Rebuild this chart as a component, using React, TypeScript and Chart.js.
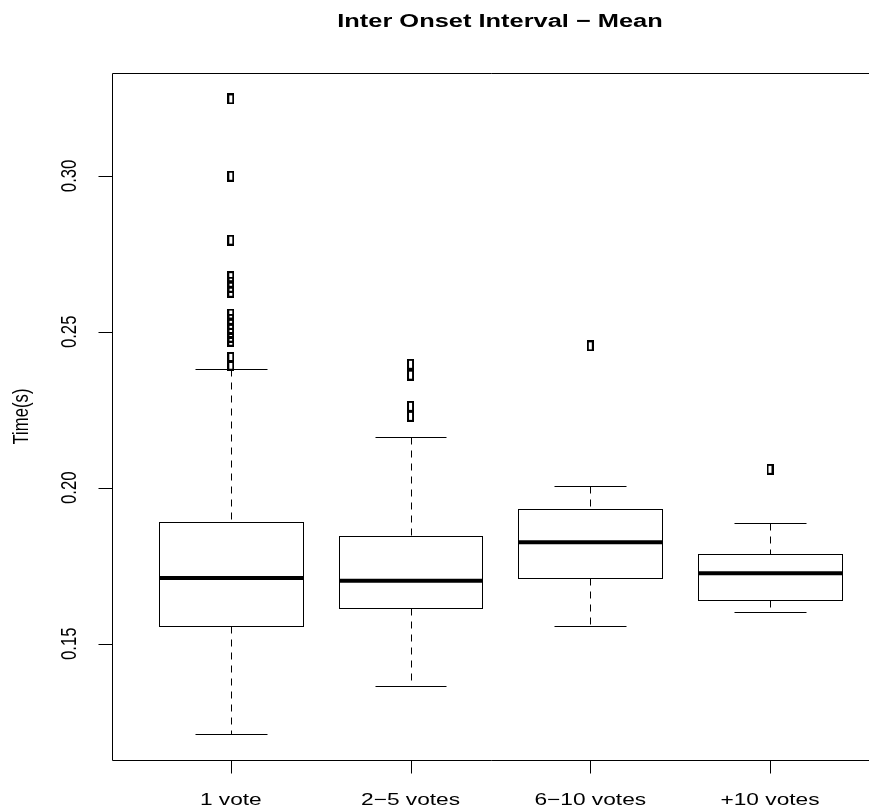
import React, { useEffect, useRef } from "react";
import { Chart, registerables } from "chart.js";
Chart.register(...registerables);

// ---- data ----
const categories = ["1 vote", "2−5 votes", "6−10 votes", "+10 votes"];
const lowerWhisker = [0.1209, 0.1363, 0.1558, 0.1601];
const q1 = [0.1558, 0.1616, 0.1712, 0.1639];
const median = [0.1711, 0.1702, 0.1825, 0.1726];
const q3 = [0.189, 0.1845, 0.1933, 0.1789];
const upperWhisker = [0.238, 0.2163, 0.2005, 0.1887];
const outliers1 = [
  0.3247, 0.2999, 0.2794, 0.2677, 0.2659, 0.2643, 0.2627, 0.2557, 0.254,
  0.2524, 0.2508, 0.2496, 0.2483, 0.247, 0.2418, 0.2393,
];
const outliers2 = [0.2396, 0.2361, 0.2261, 0.2229];
const outliers3 = [0.2455];
const outliers4 = [0.2059];
const yTicks = [0.15, 0.2, 0.25, 0.3];
const yTickLabels = ["0.15", "0.20", "0.25", "0.30"];
const titleText = "Inter Onset Interval − Mean";
const yTitleText = "Time(s)";

const Y_MIN = 0.1127;
const Y_MAX = 0.333;
const X_MIN = 0.339;
const X_MAX = 4.523;
const STRETCH = 1.36;
const FONT = '"Liberation Sans", Arial, Helvetica, sans-serif';

function makeMarker(): HTMLCanvasElement {
  const c = document.createElement("canvas");
  c.width = 7;
  c.height = 11;
  const g = c.getContext("2d")!;
  g.strokeStyle = "#000";
  g.lineWidth = 2;
  g.strokeRect(1, 1, 5, 9);
  return c;
}

const boxPlugin = {
  id: "boxplot",
  beforeDatasetsDraw(chart: any) {
    const ctx = chart.ctx as CanvasRenderingContext2D;
    const xs = chart.scales.x;
    const ys = chart.scales.y;
    const px = (v: number) => Math.round(xs.getPixelForValue(v)) + 0.5;
    const py = (v: number) => Math.round(ys.getPixelForValue(v)) + 0.5;
    ctx.save();
    ctx.strokeStyle = "#000";
    for (let i = 0; i < categories.length; i++) {
      const c = i + 1;
      const xc = px(c);
      ctx.lineWidth = 1;
      ctx.setLineDash([7, 6]);
      ctx.beginPath();
      ctx.moveTo(xc, py(upperWhisker[i]));
      ctx.lineTo(xc, py(q3[i]));
      ctx.moveTo(xc, py(q1[i]));
      ctx.lineTo(xc, py(lowerWhisker[i]));
      ctx.stroke();
      ctx.setLineDash([]);
      ctx.beginPath();
      ctx.moveTo(px(c - 0.2), py(upperWhisker[i]));
      ctx.lineTo(px(c + 0.2), py(upperWhisker[i]));
      ctx.moveTo(px(c - 0.2), py(lowerWhisker[i]));
      ctx.lineTo(px(c + 0.2), py(lowerWhisker[i]));
      ctx.stroke();
      const x0 = px(c - 0.4);
      const x1 = px(c + 0.4);
      const yTop = py(q3[i]);
      const yBot = py(q1[i]);
      ctx.fillStyle = "#fff";
      ctx.fillRect(x0, yTop, x1 - x0, yBot - yTop);
      ctx.strokeRect(x0, yTop, x1 - x0, yBot - yTop);
      ctx.lineWidth = 4;
      ctx.beginPath();
      ctx.moveTo(x0, ys.getPixelForValue(median[i]));
      ctx.lineTo(x1, ys.getPixelForValue(median[i]));
      ctx.stroke();
    }
    ctx.restore();
  },
  afterDraw(chart: any) {
    const ctx = chart.ctx as CanvasRenderingContext2D;
    const xs = chart.scales.x;
    const ys = chart.scales.y;
    const a = chart.chartArea;
    ctx.save();
    ctx.strokeStyle = "#000";
    ctx.lineWidth = 1;
    const L = Math.round(a.left) + 0.5;
    const T = Math.round(a.top) + 0.5;
    const B = Math.round(a.bottom) + 0.5;
    ctx.beginPath();
    ctx.moveTo(chart.width + 5, T);
    ctx.lineTo(L, T);
    ctx.lineTo(L, B);
    ctx.lineTo(chart.width + 5, B);
    ctx.stroke();
    ctx.beginPath();
    for (const v of yTicks) {
      const y = Math.round(ys.getPixelForValue(v)) + 0.5;
      ctx.moveTo(L, y);
      ctx.lineTo(L - 14, y);
    }
    for (let i = 0; i < categories.length; i++) {
      const x = Math.round(xs.getPixelForValue(i + 1)) + 0.5;
      ctx.moveTo(x, B);
      ctx.lineTo(x, B + 13);
    }
    ctx.stroke();

    ctx.fillStyle = "#000";
    ctx.font = `16.7px ${FONT}`;
    ctx.textAlign = "center";
    ctx.textBaseline = "middle";
    for (let i = 0; i < categories.length; i++) {
      const x = xs.getPixelForValue(i + 1);
      ctx.save();
      ctx.translate(x, 800);
      ctx.scale(STRETCH, 1);
      ctx.fillText(categories[i], 0, 0);
      ctx.restore();
    }
    for (let k = 0; k < yTicks.length; k++) {
      const y = ys.getPixelForValue(yTicks[k]);
      ctx.save();
      ctx.translate(70, y);
      ctx.rotate(-Math.PI / 2);
      ctx.scale(1, STRETCH);
      ctx.fillText(yTickLabels[k], 0, 0);
      ctx.restore();
    }
    ctx.save();
    ctx.translate(22, (a.top + a.bottom) / 2);
    ctx.rotate(-Math.PI / 2);
    ctx.scale(1, STRETCH);
    ctx.fillText(yTitleText, 0, 0);
    ctx.restore();
    ctx.font = `bold 18.7px ${FONT}`;
    ctx.save();
    ctx.translate(500, 22);
    ctx.scale(STRETCH, 1);
    ctx.fillText(titleText, 0, 0);
    ctx.restore();
    ctx.restore();
  },
};

export default function App() {
  const ref = useRef<HTMLCanvasElement | null>(null);
  useEffect(() => {
    if (!ref.current) return;
    const marker = makeMarker();
    const points: { x: number; y: number }[] = [];
    [outliers1, outliers2, outliers3, outliers4].forEach((arr, i) =>
      arr.forEach((v) => points.push({ x: i + 1, y: v }))
    );
    const chart = new Chart(ref.current, {
      type: "scatter",
      data: {
        datasets: [
          {
            label: "outliers",
            data: points,
            pointStyle: marker as any,
            pointRadius: 4,
            borderColor: "#000",
            backgroundColor: "#fff",
          },
        ],
      },
      options: {
        animation: false,
        responsive: false,
        devicePixelRatio: 1,
        events: [],
        layout: { padding: { left: 112, top: 73, right: 0, bottom: 51 } },
        plugins: {
          legend: { display: false },
          tooltip: { enabled: false },
          title: { display: false },
        },
        scales: {
          x: { type: "linear", min: X_MIN, max: X_MAX, display: false },
          y: { type: "linear", min: Y_MIN, max: Y_MAX, display: false },
        },
      },
      plugins: [boxPlugin],
    });
    return () => chart.destroy();
  }, []);
  return (
    <canvas
      ref={ref}
      width={869}
      height={811}
      style={{ position: "fixed", left: 0, top: 0, width: 869, height: 811, background: "#fff" }}
    />
  );
}
